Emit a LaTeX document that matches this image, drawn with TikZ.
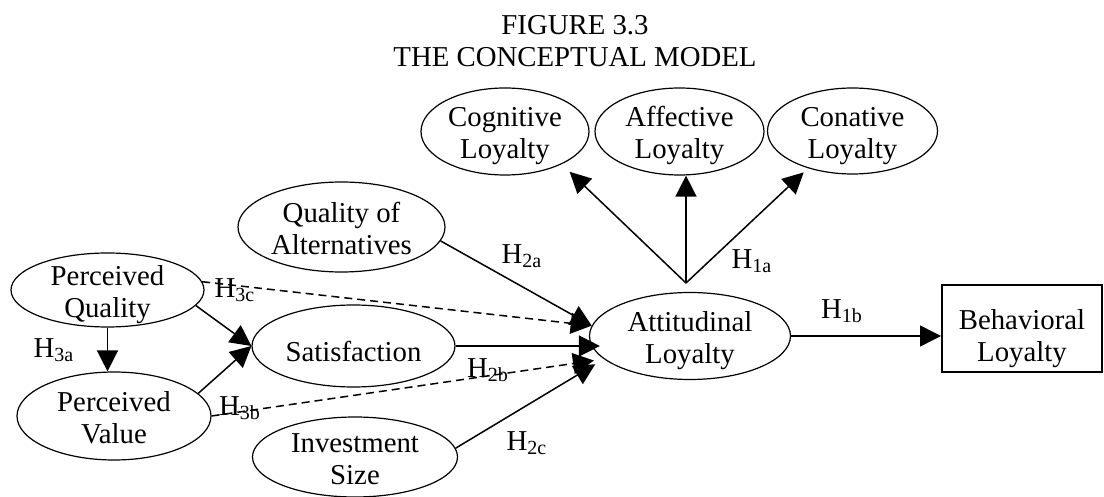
\documentclass[tikz,border=0pt]{standalone}
\usepackage{fontspec}
\setmainfont{Liberation Serif}
\usetikzlibrary{arrows.meta,shapes.geometric}

\begin{document}
\begin{tikzpicture}[x=0.5pt,y=-0.5pt,->,>={Triangle[length=10.5pt,width=10.5pt]},
                line width=0.75pt,font=\fontsize{14.4}{16}\selectfont,
                main node/.style={ellipse,draw,line width=0.6pt,inner xsep=0pt,inner ysep=-5pt,align=center,
                                  text height=27.5pt,text depth=0pt},
                box node/.style={rectangle,draw,line width=1pt,inner sep=0pt,align=center,
                                 text height=33.5pt,text depth=0pt,
                                 minimum width=80pt,minimum height=43.5pt},
                hyp/.style={inner sep=0pt},
                dash line/.style={dash pattern=on 4pt off 2.5pt}]
	\useasboundingbox (0,0) rectangle (1104,497);

	\node[align=center,inner sep=0pt,anchor=north] (title) at (575,15) {FIGURE 3.3\\THE CONCEPTUAL MODEL};

	\node[main node,minimum width=84pt,minimum height=43.5pt] (cog) at (505,131.5) {Cognitive\\Loyalty};
	\node[main node,minimum width=84.5pt,minimum height=43.5pt] (aff) at (679.5,131.5) {Affective\\Loyalty};
	\node[main node,minimum width=85pt,minimum height=43pt] (con) at (852.5,131) {Conative\\Loyalty};
	\node[main node,minimum width=103.5pt,minimum height=45pt] (qoa) at (341.5,227) {Quality of\\Alternatives};
	\node[main node,minimum width=96.5pt,minimum height=37pt] (pq) at (107.5,290) {Perceived\\Quality};
	\node[main node,minimum width=97pt,minimum height=44pt] (pv) at (114,416) {Perceived\\Value};
	\node[main node,minimum width=101.5pt,minimum height=41pt,text height=16pt] (sat) at (353.5,346) {Satisfaction};
	\node[main node,minimum width=102.5pt,minimum height=40pt] (inv) at (355,457) {Investment\\Size};
	\node[main node,minimum width=100.5pt,minimum height=43.5pt] (att) at (690,336) {Attitudinal\\Loyalty};
	\node[box node] (beh) at (1022,328.5) {Behavioral\\Loyalty};
	\coordinate (hub) at (686,283);

	\node[hyp] (h1a) at (752,261) {H\textsubscript{1a}};
	\node[hyp] (h1b) at (842,311) {H\textsubscript{1b}};
	\node[hyp] (h2a) at (522,256) {H\textsubscript{2a}};
	\node[hyp] (h2b) at (488,370) {H\textsubscript{2b}};
	\node[hyp] (h2c) at (527,443) {H\textsubscript{2c}};
	\node[hyp] (h3a) at (54,350) {H\textsubscript{3a}};
	\node[hyp] (h3b) at (240,408) {H\textsubscript{3b}};
	\node[hyp] (h3c) at (235,290) {H\textsubscript{3c}};

	\path
	(hub) edge [shorten >=5.5pt] (cog.-30)
	(hub) edge (hub |- aff.south)
	(hub) edge [shorten >=3pt] (con.-140)
	(att.east) edge (att.east -| beh.west)
	(pq.south) edge (pq.south |- pv.north)
	(pq.-10) edge (sat.west)
	(pv.15) edge (sat.west)
	(pq.5) edge [dash line] (att.174)
	(qoa.-8) edge (att.174)
	(sat.east) edge [shorten >=-5.5pt] (sat.east -| att.west)
	(pv.east) edge [dash line,shorten >=5pt] (att.195)
	(inv.5) edge [shorten >=5pt] (att.195)
;
\end{tikzpicture}
\end{document}
